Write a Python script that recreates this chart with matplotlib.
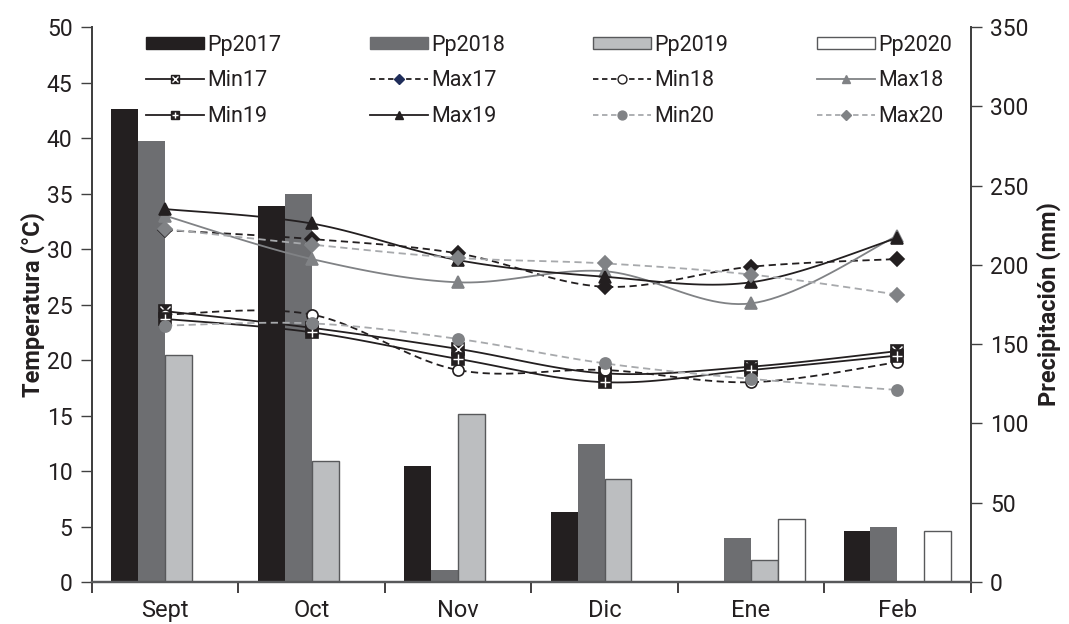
import numpy as np
import matplotlib
matplotlib.use("Agg")
import matplotlib.pyplot as plt
from matplotlib.patches import Patch
from matplotlib.lines import Line2D
from matplotlib.legend_handler import HandlerTuple

plt.rcParams['font.family'] = ['Roboto', 'DejaVu Sans']

months = ["Sept", "Oct", "Nov", "Dic", "Ene", "Feb"]

# precipitation (mm)
pp2017 = [298, 237, 73, 44, 0, 32]
pp2018 = [278, 245, 7.5, 87, 28, 35]
pp2019 = [143, 76, 106, 65, 14, 0]
pp2020 = [0, 0, 0, 0, 40, 32]

# temperature (°C)
min17 = [24.4, 22.9, 21.0, 18.8, 19.4, 20.8]
max17 = [31.7, 30.9, 29.6, 26.6, 28.4, 29.1]
min18 = [24.1, 24.1, 19.1, 19.1, 18.0, 19.8]
max18 = [33.0, 29.1, 27.0, 28.0, 25.1, 31.2]
min19 = [23.7, 22.5, 20.1, 18.0, 19.1, 20.4]
max19 = [33.6, 32.3, 29.0, 27.5, 27.0, 31.0]
min20 = [23.1, 23.3, 21.9, 19.7, 18.3, 17.3]
max20 = [31.8, 30.4, 29.2, 28.7, 27.7, 25.9]


def smooth(x, y, n=24):
    # excel-like smoothed line (bezier through the points)
    p = np.column_stack([x, y]).astype(float)
    out = []
    for i in range(len(p) - 1):
        p0 = p[max(i - 1, 0)]
        p1 = p[i]
        p2 = p[i + 1]
        p3 = p[min(i + 2, len(p) - 1)]
        c1 = p1 + (p2 - p0) / 6
        c2 = p2 - (p3 - p1) / 6
        t = np.linspace(0, 1, n)[:, None]
        seg = ((1 - t) ** 3) * p1 + 3 * ((1 - t) ** 2) * t * c1 + 3 * (1 - t) * t ** 2 * c2 + t ** 3 * p2
        out.append(seg if i == 0 else seg[1:])
    s = np.vstack(out)
    return s[:, 0], s[:, 1]


fig = plt.figure(figsize=(10.69, 6.24), dpi=100)
ax = fig.add_axes([0.086, 0.0673, 0.822, 0.8894])
ax2 = ax.twinx()
ax.set_zorder(ax2.get_zorder() + 1)
ax.patch.set_visible(False)

x = np.arange(len(months))
w = 0.184
bar_specs = [
    (pp2017, "Pp2017", "#231f20", "#231f20"),
    (pp2018, "Pp2018", "#6d6e71", "#6d6e71"),
    (pp2019, "Pp2019", "#bcbec0", "#58595b"),
    (pp2020, "Pp2020", "#ffffff", "#58595b"),
]
bar_handles = []
for i, (vals, lab, fc, ec) in enumerate(bar_specs):
    ax2.bar(x + (i - 1.5) * w, vals, w, color=fc, edgecolor=ec, linewidth=1.0 if fc != ec else 0)
    bar_handles.append(Patch(facecolor=fc, edgecolor=ec, linewidth=1.0, label=lab))

ax2.set_ylim(0, 350)
ax2.set_yticks(np.arange(0, 351, 50))

# temperature lines
line_specs = {
    "Min17": (min17, "#231f20", "-", "s", "#231f20", "#231f20", "x"),
    "Max17": (max17, "#231f20", "--", "D", "#231f20", "#231f20", None),
    "Min18": (min18, "#231f20", "--", "o", "white", "#231f20", None),
    "Max18": (max18, "#808285", "-", "^", "#808285", "#808285", None),
    "Min19": (min19, "#231f20", "-", "s", "#231f20", "#231f20", "+"),
    "Max19": (max19, "#231f20", "-", "^", "#231f20", "#231f20", None),
    "Min20": (min20, "#a7a9ac", "--", "o", "#808285", "#808285", None),
    "Max20": (max20, "#a7a9ac", "--", "D", "#808285", "#808285", None),
}
line_handles = {}
for name, (vals, col, ls, mk, mfc, mec, over) in line_specs.items():
    sx, sy = smooth(x, vals)
    if ls == "--":
        ax.plot(sx, sy, color=col, linestyle=ls, linewidth=1.3, dashes=(4, 2.5))
    else:
        ax.plot(sx, sy, color=col, linestyle=ls, linewidth=1.3)
    msize = 8 if mk != "D" else 7
    ax.plot(x, vals, linestyle="none", marker=mk, markersize=msize, markerfacecolor=mfc,
            markeredgecolor=mec, markeredgewidth=1.2)
    lfc = "#1f2d5a" if name == "Max17" else mfc
    lec = "#1f2d5a" if name == "Max17" else mec
    h = Line2D([], [], color=col, linestyle=ls, linewidth=1.3, marker=mk, markersize=msize * 0.8,
               markerfacecolor=lfc, markeredgecolor=lec, markeredgewidth=1.0)
    if ls == "--":
        h.set_dashes((3, 2))
    if over:
        ax.plot(x, vals, linestyle="none", marker=over, markersize=6.5, markeredgecolor="white", markeredgewidth=1.0)
        h2 = Line2D([], [], linestyle="none", marker=over, markersize=5, markeredgecolor="white", markeredgewidth=1.0)
        h = (h, h2)
    line_handles[name] = h

ax.set_ylim(0, 50)
ax.set_yticks(np.arange(0, 51, 5))
ax.set_xlim(-0.5, 5.5)
ax.set_xticks(np.arange(-0.5, 5.6, 1))
ax.set_xticklabels([])
ax.set_xticks(x, minor=True)
ax.set_xticklabels(months, minor=True)
ax.tick_params(axis="x", which="major", length=8, width=1.2, color="#231f20", direction="out")
ax.tick_params(axis="x", which="minor", length=0, pad=12, labelsize=17, labelcolor="#231f20")
ax.tick_params(axis="y", length=8, width=1.0, color="#404040", labelsize=16.5, labelcolor="#231f20", pad=6)
ax2.tick_params(axis="y", length=8, width=1.0, color="#404040", labelsize=16.5, labelcolor="#231f20", pad=6)

for a in (ax, ax2):
    a.spines["top"].set_visible(False)
    a.spines["left"].set_color("#404040")
    a.spines["right"].set_color("#404040")
    a.spines["bottom"].set_color("#58595b")
    a.spines["left"].set_linewidth(1.3)
    a.spines["right"].set_linewidth(1.3)
    a.spines["bottom"].set_linewidth(1.6)

ax.set_ylabel("Temperatura (°C)", fontsize=17, fontweight="bold", color="#231f20", labelpad=1)
ax2.set_ylabel("Precipitación (mm)", fontsize=17, fontweight="bold", color="#231f20", labelpad=6)

# legend in column order (4 columns, 3 rows)
order = [bar_handles[0], line_handles["Min17"], line_handles["Min19"],
         bar_handles[1], line_handles["Max17"], line_handles["Max19"],
         bar_handles[2], line_handles["Min18"], line_handles["Min20"],
         bar_handles[3], line_handles["Max18"], line_handles["Max20"]]
labels = ["Pp2017", "Min17", "Min19", "Pp2018", "Max17", "Max19",
          "Pp2019", "Min18", "Min20", "Pp2020", "Max18", "Max20"]
leg = ax.legend(order, labels, ncol=4, loc="upper left", bbox_to_anchor=(0.052, 1.002),
                frameon=False, prop={"size": 15.5}, handlelength=2.7,
                handleheight=0.5, handletextpad=0.15, columnspacing=4.1, labelspacing=0.68,
                borderaxespad=0, handler_map={tuple: HandlerTuple(ndivide=1)})
for t in leg.get_texts():
    t.set_color("#231f20")

fig.savefig("out.png", dpi=100)
